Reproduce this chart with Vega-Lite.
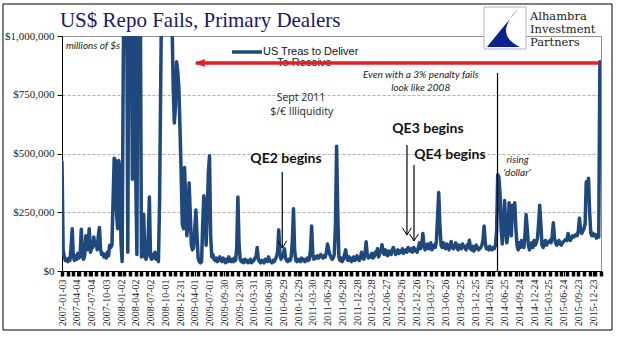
{
  "$schema": "https://vega.github.io/schema/vega-lite/v6.json",
  "width": 539,
  "height": 235,
  "autosize": {"type": "none"},
  "padding": {"left": 62, "top": 36, "right": 17, "bottom": 70},
  "background": "white",
  "config": {"view": {"stroke": "#8c8c8c", "strokeWidth": 1}},
  "datasets": {
    "fails": [
      {"week":0,"fails":465000},{"week":1,"fails":90000},{"week":2,"fails":60000},{"week":3,"fails":45000},{"week":4,"fails":50000},{"week":5,"fails":40000},{"week":6,"fails":55000},{"week":7,"fails":45000},{"week":8,"fails":100000},{"week":9,"fails":180000},
      {"week":10,"fails":60000},{"week":11,"fails":45000},{"week":12,"fails":65000},{"week":13,"fails":50000},{"week":14,"fails":75000},{"week":15,"fails":55000},{"week":16,"fails":70000},{"week":17,"fails":178000},{"week":18,"fails":60000},{"week":19,"fails":50000},
      {"week":20,"fails":65000},{"week":21,"fails":150000},{"week":22,"fails":90000},{"week":23,"fails":110000},{"week":24,"fails":180000},{"week":25,"fails":80000},{"week":26,"fails":95000},{"week":27,"fails":100000},{"week":28,"fails":145000},{"week":29,"fails":110000},
      {"week":30,"fails":125000},{"week":31,"fails":90000},{"week":32,"fails":150000},{"week":33,"fails":185000},{"week":34,"fails":90000},{"week":35,"fails":70000},{"week":36,"fails":75000},{"week":37,"fails":60000},{"week":38,"fails":70000},{"week":39,"fails":55000},
      {"week":40,"fails":80000},{"week":41,"fails":65000},{"week":42,"fails":110000},{"week":43,"fails":100000},{"week":44,"fails":110000},{"week":45,"fails":300000},{"week":46,"fails":480000},{"week":47,"fails":470000},{"week":48,"fails":250000},{"week":49,"fails":180000},
      {"week":50,"fails":470000},{"week":51,"fails":430000},{"week":52,"fails":120000},{"week":53,"fails":40000},{"week":54,"fails":900000},{"week":55,"fails":1300000},{"week":56,"fails":1700000},{"week":57,"fails":1200000},{"week":58,"fails":80000},{"week":59,"fails":1300000},
      {"week":60,"fails":1600000},{"week":61,"fails":1300000},{"week":62,"fails":390000},{"week":63,"fails":1400000},{"week":64,"fails":1500000},{"week":65,"fails":390000},{"week":66,"fails":70000},{"week":67,"fails":1300000},{"week":68,"fails":1500000},{"week":69,"fails":1200000},
      {"week":70,"fails":60000},{"week":71,"fails":70000},{"week":72,"fails":240000},{"week":73,"fails":60000},{"week":74,"fails":50000},{"week":75,"fails":70000},{"week":76,"fails":150000},{"week":77,"fails":315000},{"week":78,"fails":60000},{"week":79,"fails":50000},
      {"week":80,"fails":70000},{"week":81,"fails":55000},{"week":82,"fails":80000},{"week":83,"fails":50000},{"week":84,"fails":60000},{"week":85,"fails":40000},{"week":86,"fails":300000},{"week":87,"fails":800000},{"week":88,"fails":1300000},{"week":89,"fails":1800000},
      {"week":90,"fails":2200000},{"week":91,"fails":2500000},{"week":92,"fails":2200000},{"week":93,"fails":1900000},{"week":94,"fails":1700000},{"week":95,"fails":1500000},{"week":96,"fails":1300000},{"week":97,"fails":1050000},{"week":98,"fails":780000},{"week":99,"fails":630000},
      {"week":100,"fails":700000},{"week":101,"fails":890000},{"week":102,"fails":850000},{"week":103,"fails":780000},{"week":104,"fails":600000},{"week":105,"fails":420000},{"week":106,"fails":200000},{"week":107,"fails":180000},{"week":108,"fails":440000},{"week":109,"fails":300000},
      {"week":110,"fails":150000},{"week":111,"fails":200000},{"week":112,"fails":375000},{"week":113,"fails":250000},{"week":114,"fails":110000},{"week":115,"fails":90000},{"week":116,"fails":100000},{"week":117,"fails":180000},{"week":118,"fails":260000},{"week":119,"fails":150000},
      {"week":120,"fails":55000},{"week":121,"fails":40000},{"week":122,"fails":35000},{"week":123,"fails":40000},{"week":124,"fails":200000},{"week":125,"fails":320000},{"week":126,"fails":250000},{"week":127,"fails":110000},{"week":128,"fails":250000},{"week":129,"fails":420000},
      {"week":130,"fails":490000},{"week":131,"fails":150000},{"week":132,"fails":60000},{"week":133,"fails":70000},{"week":134,"fails":50000},{"week":135,"fails":45000},{"week":136,"fails":55000},{"week":137,"fails":40000},{"week":138,"fails":50000},{"week":139,"fails":60000},
      {"week":140,"fails":45000},{"week":141,"fails":40000},{"week":142,"fails":55000},{"week":143,"fails":45000},{"week":144,"fails":35000},{"week":145,"fails":50000},{"week":146,"fails":40000},{"week":147,"fails":60000},{"week":148,"fails":45000},{"week":149,"fails":40000},
      {"week":150,"fails":50000},{"week":151,"fails":40000},{"week":152,"fails":55000},{"week":153,"fails":45000},{"week":154,"fails":100000},{"week":155,"fails":315000},{"week":156,"fails":120000},{"week":157,"fails":50000},{"week":158,"fails":40000},{"week":159,"fails":45000},
      {"week":160,"fails":35000},{"week":161,"fails":50000},{"week":162,"fails":40000},{"week":163,"fails":45000},{"week":164,"fails":35000},{"week":165,"fails":40000},{"week":166,"fails":50000},{"week":167,"fails":35000},{"week":168,"fails":40000},{"week":169,"fails":45000},
      {"week":170,"fails":55000},{"week":171,"fails":60000},{"week":172,"fails":100000},{"week":173,"fails":50000},{"week":174,"fails":40000},{"week":175,"fails":35000},{"week":176,"fails":45000},{"week":177,"fails":40000},{"week":178,"fails":35000},{"week":179,"fails":50000},
      {"week":180,"fails":45000},{"week":181,"fails":40000},{"week":182,"fails":60000},{"week":183,"fails":45000},{"week":184,"fails":40000},{"week":185,"fails":35000},{"week":186,"fails":45000},{"week":187,"fails":40000},{"week":188,"fails":50000},{"week":189,"fails":60000},
      {"week":190,"fails":80000},{"week":191,"fails":175000},{"week":192,"fails":80000},{"week":193,"fails":50000},{"week":194,"fails":60000},{"week":195,"fails":70000},{"week":196,"fails":95000},{"week":197,"fails":55000},{"week":198,"fails":45000},{"week":199,"fails":40000},
      {"week":200,"fails":50000},{"week":201,"fails":45000},{"week":202,"fails":60000},{"week":203,"fails":130000},{"week":204,"fails":265000},{"week":205,"fails":90000},{"week":206,"fails":45000},{"week":207,"fails":40000},{"week":208,"fails":50000},{"week":209,"fails":45000},
      {"week":210,"fails":40000},{"week":211,"fails":55000},{"week":212,"fails":45000},{"week":213,"fails":50000},{"week":214,"fails":40000},{"week":215,"fails":45000},{"week":216,"fails":55000},{"week":217,"fails":45000},{"week":218,"fails":50000},{"week":219,"fails":90000},
      {"week":220,"fails":192000},{"week":221,"fails":70000},{"week":222,"fails":50000},{"week":223,"fails":60000},{"week":224,"fails":55000},{"week":225,"fails":65000},{"week":226,"fails":55000},{"week":227,"fails":60000},{"week":228,"fails":70000},{"week":229,"fails":60000},
      {"week":230,"fails":55000},{"week":231,"fails":65000},{"week":232,"fails":60000},{"week":233,"fails":80000},{"week":234,"fails":115000},{"week":235,"fails":90000},{"week":236,"fails":70000},{"week":237,"fails":60000},{"week":238,"fails":50000},{"week":239,"fails":55000},
      {"week":240,"fails":70000},{"week":241,"fails":200000},{"week":242,"fails":531000},{"week":243,"fails":250000},{"week":244,"fails":60000},{"week":245,"fails":45000},{"week":246,"fails":55000},{"week":247,"fails":40000},{"week":248,"fails":50000},{"week":249,"fails":70000},
      {"week":250,"fails":90000},{"week":251,"fails":55000},{"week":252,"fails":45000},{"week":253,"fails":60000},{"week":254,"fails":50000},{"week":255,"fails":40000},{"week":256,"fails":55000},{"week":257,"fails":60000},{"week":258,"fails":45000},{"week":259,"fails":50000},
      {"week":260,"fails":65000},{"week":261,"fails":50000},{"week":262,"fails":45000},{"week":263,"fails":55000},{"week":264,"fails":80000},{"week":265,"fails":60000},{"week":266,"fails":50000},{"week":267,"fails":70000},{"week":268,"fails":124000},{"week":269,"fails":70000},
      {"week":270,"fails":55000},{"week":271,"fails":65000},{"week":272,"fails":60000},{"week":273,"fails":75000},{"week":274,"fails":55000},{"week":275,"fails":60000},{"week":276,"fails":80000},{"week":277,"fails":70000},{"week":278,"fails":95000},{"week":279,"fails":60000},
      {"week":280,"fails":75000},{"week":281,"fails":85000},{"week":282,"fails":112000},{"week":283,"fails":80000},{"week":284,"fails":70000},{"week":285,"fails":90000},{"week":286,"fails":75000},{"week":287,"fails":65000},{"week":288,"fails":85000},{"week":289,"fails":80000},
      {"week":290,"fails":70000},{"week":291,"fails":90000},{"week":292,"fails":100000},{"week":293,"fails":85000},{"week":294,"fails":70000},{"week":295,"fails":80000},{"week":296,"fails":90000},{"week":297,"fails":75000},{"week":298,"fails":85000},{"week":299,"fails":80000},
      {"week":300,"fails":95000},{"week":301,"fails":75000},{"week":302,"fails":85000},{"week":303,"fails":90000},{"week":304,"fails":80000},{"week":305,"fails":100000},{"week":306,"fails":90000},{"week":307,"fails":85000},{"week":308,"fails":95000},{"week":309,"fails":80000},
      {"week":310,"fails":100000},{"week":311,"fails":90000},{"week":312,"fails":85000},{"week":313,"fails":80000},{"week":314,"fails":100000},{"week":315,"fails":120000},{"week":316,"fails":95000},{"week":317,"fails":110000},{"week":318,"fails":160000},{"week":319,"fails":110000},
      {"week":320,"fails":90000},{"week":321,"fails":100000},{"week":322,"fails":115000},{"week":323,"fails":95000},{"week":324,"fails":100000},{"week":325,"fails":120000},{"week":326,"fails":90000},{"week":327,"fails":105000},{"week":328,"fails":110000},{"week":329,"fails":100000},
      {"week":330,"fails":130000},{"week":331,"fails":230000},{"week":332,"fails":334000},{"week":333,"fails":200000},{"week":334,"fails":110000},{"week":335,"fails":100000},{"week":336,"fails":120000},{"week":337,"fails":105000},{"week":338,"fails":95000},{"week":339,"fails":115000},
      {"week":340,"fails":100000},{"week":341,"fails":90000},{"week":342,"fails":110000},{"week":343,"fails":125000},{"week":344,"fails":100000},{"week":345,"fails":95000},{"week":346,"fails":105000},{"week":347,"fails":120000},{"week":348,"fails":100000},{"week":349,"fails":90000},
      {"week":350,"fails":110000},{"week":351,"fails":100000},{"week":352,"fails":95000},{"week":353,"fails":115000},{"week":354,"fails":105000},{"week":355,"fails":100000},{"week":356,"fails":90000},{"week":357,"fails":110000},{"week":358,"fails":100000},{"week":359,"fails":131000},
      {"week":360,"fails":95000},{"week":361,"fails":90000},{"week":362,"fails":105000},{"week":363,"fails":85000},{"week":364,"fails":95000},{"week":365,"fails":110000},{"week":366,"fails":100000},{"week":367,"fails":90000},{"week":368,"fails":95000},{"week":369,"fails":100000},
      {"week":370,"fails":110000},{"week":371,"fails":130000},{"week":372,"fails":191000},{"week":373,"fails":120000},{"week":374,"fails":95000},{"week":375,"fails":100000},{"week":376,"fails":90000},{"week":377,"fails":105000},{"week":378,"fails":95000},{"week":379,"fails":90000},
      {"week":380,"fails":100000},{"week":381,"fails":95000},{"week":382,"fails":110000},{"week":383,"fails":170000},{"week":384,"fails":410000},{"week":385,"fails":400000},{"week":386,"fails":330000},{"week":387,"fails":180000},{"week":388,"fails":115000},{"week":389,"fails":180000},
      {"week":390,"fails":300000},{"week":391,"fails":200000},{"week":392,"fails":120000},{"week":393,"fails":160000},{"week":394,"fails":290000},{"week":395,"fails":200000},{"week":396,"fails":150000},{"week":397,"fails":280000},{"week":398,"fails":250000},{"week":399,"fails":290000},
      {"week":400,"fails":180000},{"week":401,"fails":110000},{"week":402,"fails":90000},{"week":403,"fails":120000},{"week":404,"fails":100000},{"week":405,"fails":130000},{"week":406,"fails":115000},{"week":407,"fails":100000},{"week":408,"fails":150000},{"week":409,"fails":240000},
      {"week":410,"fails":180000},{"week":411,"fails":110000},{"week":412,"fails":90000},{"week":413,"fails":110000},{"week":414,"fails":120000},{"week":415,"fails":100000},{"week":416,"fails":130000},{"week":417,"fails":110000},{"week":418,"fails":120000},{"week":419,"fails":140000},
      {"week":420,"fails":200000},{"week":421,"fails":280000},{"week":422,"fails":200000},{"week":423,"fails":110000},{"week":424,"fails":100000},{"week":425,"fails":120000},{"week":426,"fails":130000},{"week":427,"fails":110000},{"week":428,"fails":120000},{"week":429,"fails":125000},
      {"week":430,"fails":130000},{"week":431,"fails":120000},{"week":432,"fails":150000},{"week":433,"fails":205000},{"week":434,"fails":140000},{"week":435,"fails":120000},{"week":436,"fails":110000},{"week":437,"fails":125000},{"week":438,"fails":130000},{"week":439,"fails":115000},
      {"week":440,"fails":110000},{"week":441,"fails":120000},{"week":442,"fails":125000},{"week":443,"fails":130000},{"week":444,"fails":135000},{"week":445,"fails":130000},{"week":446,"fails":160000},{"week":447,"fails":140000},{"week":448,"fails":130000},{"week":449,"fails":140000},
      {"week":450,"fails":150000},{"week":451,"fails":145000},{"week":452,"fails":150000},{"week":453,"fails":155000},{"week":454,"fails":150000},{"week":455,"fails":170000},{"week":456,"fails":225000},{"week":457,"fails":175000},{"week":458,"fails":160000},{"week":459,"fails":170000},
      {"week":460,"fails":180000},{"week":461,"fails":200000},{"week":462,"fails":380000},{"week":463,"fails":360000},{"week":464,"fails":395000},{"week":465,"fails":250000},{"week":466,"fails":160000},{"week":467,"fails":150000},{"week":468,"fails":160000},{"week":469,"fails":150000},
      {"week":470,"fails":155000},{"week":471,"fails":140000},{"week":472,"fails":150000},{"week":473,"fails":145000},{"week":474,"fails":890000}
    ]
  },
  "resolve": {"axis": {"x": "independent", "y": "independent"}},
  "layer": [
    {
      "data": {"values": [{}]},
      "mark": {"type": "rect", "fill": "transparent", "stroke": "#000", "strokeWidth": 1, "clip": false},
      "encoding": {
        "x": {"datum": -52.0, "type": "quantitative", "axis": null},
        "x2": {"datum": 484.7},
        "y": {"datum": 1136200, "type": "quantitative", "axis": null},
        "y2": {"datum": -251100}
      }
    },
    {
      "data": {"values": [{}]},
      "mark": {"type": "text", "font": "Liberation Serif", "fontSize": 21, "color": "#17176b", "align": "left", "baseline": "alphabetic", "clip": false},
      "encoding": {
        "x": {"datum": -1.8, "type": "quantitative", "axis": null},
        "y": {"datum": 1038300, "type": "quantitative", "axis": null},
        "text": {"value": "US$ Repo Fails, Primary Dealers"}
      }
    },
    {
      "data": {"values": [{}]},
      "mark": {"type": "point", "shape": "square", "size": 1764, "filled": true, "fill": "white", "stroke": "#b5b5b5", "strokeWidth": 1, "opacity": 1, "clip": false},
      "encoding": {
        "x": {"datum": 390.4, "type": "quantitative", "axis": null},
        "y": {"datum": 1034000, "type": "quantitative", "axis": null}
      }
    },
    {
      "data": {"values": [{}]},
      "mark": {"type": "point", "shape": "M0.62,-0.9L-0.86,0.9L0.71,0.9Q-0.565,0.3 0.62,-0.9Z", "size": 1764, "filled": true, "color": "#0c2290", "strokeWidth": 0, "opacity": 1, "clip": false},
      "encoding": {
        "x": {"datum": 390.4, "type": "quantitative", "axis": null},
        "y": {"datum": 1034000, "type": "quantitative", "axis": null}
      }
    },
    {
      "data": {"values": [{}]},
      "mark": {"type": "text", "font": "DejaVu Serif", "fontSize": 11.5, "lineHeight": 13, "color": "#1a1a1a", "align": "left", "baseline": "alphabetic", "clip": false},
      "encoding": {
        "x": {"datum": 412.4, "type": "quantitative", "axis": null},
        "y": {"datum": 1068000, "type": "quantitative", "axis": null},
        "text": {"value": ["Alhambra", "Investment", "Partners"]}
      }
    },
    {
      "data": {"name": "fails"},
      "mark": {"type": "line", "clip": true, "strokeWidth": 3.5, "strokeJoin": "round", "strokeCap": "round", "color": "#1f497d"},
      "encoding": {
        "x": {
          "field": "week", "type": "quantitative",
          "scale": {"domain": [0, 475], "nice": false, "zero": false},
          "axis": {
            "orient": "bottom",
            "values": [0,13,26,39,52,65,78,91,104,117,130,143,156,169,182,195,208,221,234,247,260,273,286,299,312,325,338,351,364,377,390,403,416,429,442,455,468],
            "labelExpr": "timeFormat(datetime(2007, 0, 3 + 7 * datum.value), '%Y-%m-%d')",
            "labelAngle": 270,
            "labelFont": "Liberation Serif", "labelFontSize": 10, "labelColor": "#222",
            "labelPadding": 3, "labelOverlap": false, "labelFlush": false, "labelBound": false,
            "tickSize": 5, "tickColor": "#000", "tickWidth": 1,
            "domainColor": "#000", "domainWidth": 1,
            "grid": false, "title": null
          }
        },
        "y": {
          "field": "fails", "type": "quantitative",
          "scale": {"domain": [0, 1000000], "nice": false},
          "axis": {
            "orient": "left",
            "values": [0, 250000, 500000, 750000, 1000000],
            "format": "$,.0f",
            "labelFont": "Liberation Serif", "labelFontSize": 11, "labelColor": "#222",
            "labelPadding": 3,
            "tickSize": 5, "tickColor": "#000",
            "domainColor": "#000",
            "grid": true, "gridColor": "#9a9a9a", "gridDash": [3, 2], "gridWidth": 0.8,
            "title": null
          }
        }
      }
    },
    {
      "data": {"values": [{}]},
      "mark": {"type": "rule", "color": "#1f497d", "strokeWidth": 3.5},
      "encoding": {
        "x": {"datum": 149.8, "type": "quantitative", "axis": null},
        "x2": {"datum": 176.2},
        "y": {"datum": 931900, "type": "quantitative", "axis": null}
      }
    },
    {
      "data": {"values": [
        {"week": 177.1, "value": 931900, "label": "US Treas to Deliver"},
        {"week": 189.5, "value": 883000, "label": "To Receive"}
      ]},
      "mark": {"type": "text", "font": "Liberation Sans", "fontSize": 11, "color": "#111", "align": "left", "baseline": "middle"},
      "encoding": {
        "x": {"field": "week", "type": "quantitative", "axis": null},
        "y": {"field": "value", "type": "quantitative", "axis": null},
        "text": {"field": "label"}
      }
    },
    {
      "data": {"values": [
        {"week": 194.1, "top": 421300, "bottom": 97900},
        {"week": 304.0, "top": 536200, "bottom": 153200},
        {"week": 310.2, "top": 451100, "bottom": 127700},
        {"week": 383.8, "top": 842500, "bottom": 0}
      ]},
      "mark": {"type": "rule", "color": "#000", "strokeWidth": 1.2},
      "encoding": {
        "x": {"field": "week", "type": "quantitative", "axis": null},
        "y": {"field": "top", "type": "quantitative", "axis": null},
        "y2": {"field": "bottom"}
      }
    },
    {
      "data": {"values": [
        {"week": 194.1, "value": 97900},
        {"week": 304.0, "value": 153200},
        {"week": 310.2, "value": 127700}
      ]},
      "mark": {"type": "point", "shape": "M-1,-1.6L0,0L1,-1.6", "size": 81, "filled": false, "color": "#000", "strokeWidth": 1, "opacity": 1},
      "encoding": {
        "x": {"field": "week", "type": "quantitative", "axis": null},
        "y": {"field": "value", "type": "quantitative", "axis": null}
      }
    },
    {
      "data": {"values": [
        {"week": 27.3, "value": 957400, "label": "millions of $s"},
        {"week": 316.2, "value": 834000, "label": "Even with a 3% penalty fails"},
        {"week": 316.1, "value": 777400, "label": "look like 2008"},
        {"week": 401.4, "value": 472300, "label": "rising"},
        {"week": 401.0, "value": 418300, "label": "'dollar'"}
      ]},
      "mark": {"type": "text", "font": "Lato", "fontStyle": "italic", "fontSize": 10, "color": "#222", "align": "center", "baseline": "middle"},
      "encoding": {
        "x": {"field": "week", "type": "quantitative", "axis": null},
        "y": {"field": "value", "type": "quantitative", "axis": null},
        "text": {"field": "label"}
      }
    },
    {
      "data": {"values": [
        {"week": 210.6, "value": 734900, "label": "Sept 2011"},
        {"week": 211.2, "value": 677900, "label": "$/€ Illiquidity"}
      ]},
      "mark": {"type": "text", "font": "Open Sans", "fontSize": 10.5, "color": "#222", "align": "center", "baseline": "middle"},
      "encoding": {
        "x": {"field": "week", "type": "quantitative", "axis": null},
        "y": {"field": "value", "type": "quantitative", "axis": null},
        "text": {"field": "label"}
      }
    },
    {
      "data": {"values": [
        {"week": 197.4, "value": 476600, "label": "QE2 begins"},
        {"week": 322.5, "value": 604300, "label": "QE3 begins"},
        {"week": 341.9, "value": 495700, "label": "QE4 begins"}
      ]},
      "mark": {"type": "text", "font": "Lato", "fontWeight": "bold", "fontSize": 14, "color": "#111", "align": "center", "baseline": "middle"},
      "encoding": {
        "x": {"field": "week", "type": "quantitative", "axis": null},
        "y": {"field": "value", "type": "quantitative", "axis": null},
        "text": {"field": "label"}
      }
    },
    {
      "data": {"values": [{"week": 118, "week_end": 473, "value": 885100}]},
      "mark": {"type": "rule", "color": "#e41e26", "strokeWidth": 3.5},
      "encoding": {
        "x": {
          "field": "week", "type": "quantitative",
          "axis": {"orient": "bottom", "tickCount": 95, "labels": false, "domain": false, "grid": false, "ticks": true, "tickSize": 5, "tickWidth": 3.5, "tickColor": "#000", "title": null}
        },
        "x2": {"field": "week_end"},
        "y": {"field": "value", "type": "quantitative", "axis": null}
      }
    },
    {
      "data": {"values": [{"week": 117, "value": 885100}]},
      "mark": {"type": "point", "shape": "M0,0L2,-0.8L2,0.8Z", "size": 100, "filled": true, "color": "#e41e26", "strokeWidth": 0, "opacity": 1},
      "encoding": {
        "x": {"field": "week", "type": "quantitative", "axis": null},
        "y": {"field": "value", "type": "quantitative", "axis": null}
      }
    }
  ]
}
